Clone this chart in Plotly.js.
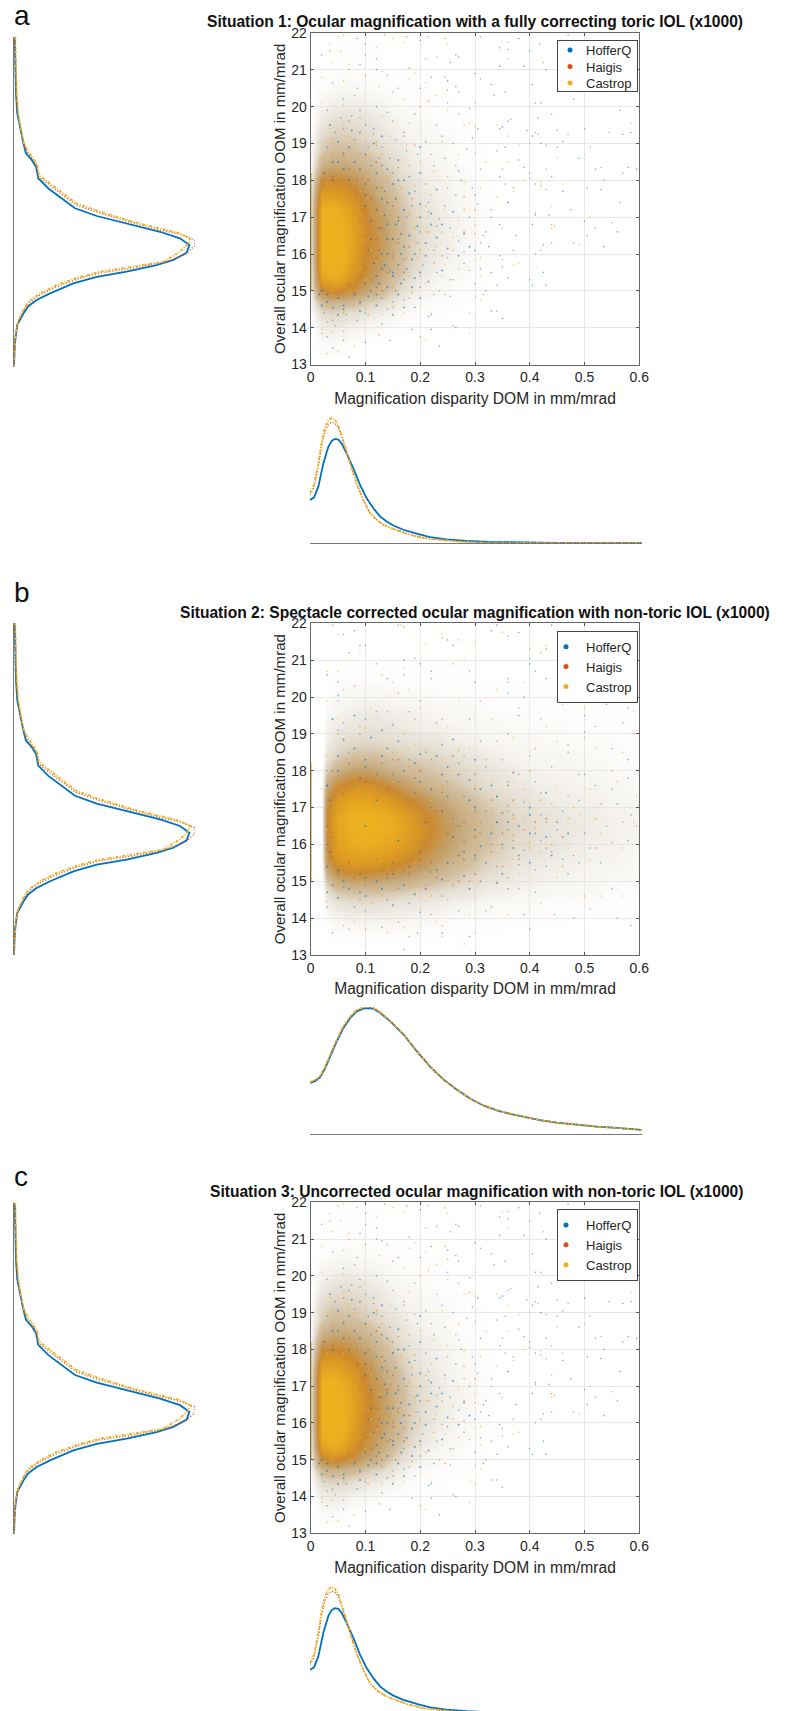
<!DOCTYPE html>
<html><head><meta charset="utf-8">
<script src="https://cdn.plot.ly/plotly-3.0.1.min.js"></script>
<style>html,body{margin:0;padding:0;background:#fff;overflow:hidden}</style></head>
<body><div id="chart" style="width:787px;height:1711px"></div>
<script>
// ---- density curves ----
const domX = [0,.0072,.0151,.0241,.0332,.0392,.0452,.0513,.0573,.0663,.0784,.0905,.1025,.1146,.1266,.1387,.1508,.1688,.193,.2171,.2472,.2834,.3256,.3859,.4462,.6];
const domHofferA = [.342,.361,.447,.632,.763,.811,.826,.821,.789,.711,.592,.461,.355,.276,.211,.171,.139,.105,.074,.047,.029,.016,.008,.003,.001,0];
const domOtherX = [0,.0072,.0151,.0211,.0271,.0332,.0392,.0452,.0513,.0573,.0663,.0754,.0844,.0965,.1085,.1206,.1327,.1508,.1749,.205,.2352,.2653,.3015,.3558,.6];
const domHaigisA = [.385,.44,.61,.77,.885,.94,.96,.95,.915,.845,.72,.59,.47,.34,.235,.183,.145,.111,.074,.039,.024,.013,.005,0,0];
const domCastropA = [.395,.461,.632,.803,.921,.974,.995,.979,.934,.855,.724,.592,.474,.342,.237,.184,.145,.111,.074,.039,.024,.013,.005,0,0];
const domBX = [0,.009,.0181,.0271,.0362,.0482,.0603,.0724,.0844,.0965,.1055,.1146,.1266,.1447,.1688,.193,.2171,.2412,.2653,.2894,.3136,.3377,.3618,.3859,.4161,.4462,.4824,.5186,.5548,.6];
const domHofferB = [.402,.416,.445,.515,.607,.727,.833,.912,.965,.987,.992,.986,.955,.889,.785,.652,.53,.43,.35,.279,.225,.186,.159,.135,.109,.09,.074,.058,.048,.032];
const domHaigisB = [.408,.422,.451,.523,.615,.735,.841,.92,.973,.995,1,.992,.96,.894,.788,.655,.531,.43,.35,.279,.225,.186,.159,.135,.109,.09,.074,.058,.048,.032];
const domCastropB = [.41,.425,.455,.528,.622,.742,.848,.925,.976,.997,1,.993,.96,.893,.786,.652,.528,.428,.348,.277,.224,.186,.159,.135,.109,.09,.074,.058,.048,.03];

const oomHofferV = [.004,.007,.011,.018,.033,.052,.066,.098,.122,.134,.19,.263,.337,.457,.641,.807,.917,.969,.954,.88,.788,.622,.457,.328,.199,.125,.079,.052,.018,.007,.002,0];
const oomHofferY = [22,21.18,20.45,19.91,19.5,19.09,18.82,18.64,18.45,18.14,17.86,17.59,17.32,17.11,16.89,16.68,16.5,16.32,16.11,15.91,15.77,15.59,15.45,15.27,15,14.82,14.65,14.45,14.14,13.73,13.36,13];
const oomHaigisV = [.006,.009,.013,.022,.035,.054,.075,.103,.125,.136,.195,.269,.343,.468,.652,.807,.926,1,1,.945,.835,.65,.468,.35,.221,.134,.079,.052,.022,.009,.004,0];
const oomHaigisY = [22,21.18,20.45,19.91,19.5,19.09,18.84,18.66,18.48,18.18,17.95,17.68,17.41,17.2,16.93,16.73,16.6,16.45,16.3,16.06,15.86,15.68,15.55,15.39,15.15,14.93,14.73,14.52,14.23,13.86,13.43,13];
const oomCastropV = [.007,.011,.015,.024,.037,.055,.079,.107,.129,.138,.199,.273,.346,.475,.659,.807,.917,.972,.963,.917,.825,.659,.475,.365,.236,.144,.079,.052,.024,.009,.004,0];
const oomCastropY = [22,21.18,20.45,19.91,19.5,19.09,18.86,18.68,18.5,18.23,18,17.73,17.45,17.23,16.95,16.77,16.64,16.5,16.36,16.14,15.86,15.73,15.59,15.45,15.23,15,14.77,14.55,14.27,13.91,13.45,13];

// ---- point density of the crowded part of each cloud (0 empty, 10 solid) ----
const cloudRows = [13.5,14,14.4,14.7,15,15.3,15.6,16,16.4,16.8,17.2,17.6,18,18.4,18.8,19.2,19.6,20,20.5,21,22];
const cloudColsA = [0,.02,.04,.06,.08,.1,.12,.14,.16,.18,.2,.23,.26,.3,.35];
const cloudA = [
[0,.3,.3,.2,.1,.1,.1,0,0,0,0,0,0,0,0],
[0,.8,.9,.8,.6,.5,.4,.3,.2,.2,.1,.1,.1,0,0],
[.3,1.5,1.8,1.6,1.4,1.1,.9,.7,.5,.3,.2,.2,.1,.1,0],
[.5,3,3.5,3.2,2.8,2.2,1.8,1.3,.9,.6,.4,.3,.2,.1,0],
[.7,6,7,6.5,5.5,4.3,3.4,2.4,1.6,1,.7,.4,.3,.2,0],
[.8,8.5,9.5,8.8,7,5.5,4.4,3.2,2.2,1.4,.9,.6,.4,.2,0],
[.8,9.7,10,9.6,8,6.2,5,3.8,2.8,1.8,1.2,.7,.5,.3,0],
[.9,10,10,10,8.5,6.6,5.5,4.2,3,2,1.4,.9,.6,.3,0],
[.9,10,10,10,8.8,7,5.7,4.4,3.1,2.1,1.5,1,.7,.4,0],
[.9,10,10,9.8,8.5,6.8,5.5,4.2,3,2.1,1.5,1,.7,.4,0],
[.9,9.8,10,9.4,8,6.4,5,3.8,2.7,1.9,1.3,.9,.6,.4,0],
[.8,8.5,8.5,8,7,5.5,4.2,3.2,2.3,1.6,1.1,.8,.6,.3,0],
[.6,6,6.5,6.2,5.3,4.4,3.4,2.5,1.8,1.3,.9,.7,.5,.3,0],
[.4,3.5,4.2,4.2,3.8,3.2,2.5,1.9,1.4,1,.8,.6,.4,.2,0],
[.3,2.2,2.8,2.8,2.6,2.2,1.8,1.4,1.1,.8,.6,.5,.3,.2,0],
[.2,1.6,2,2,1.9,1.6,1.3,1,.8,.6,.5,.4,.3,.2,0],
[.1,1,1.4,1.5,1.4,1.2,1,.8,.6,.5,.4,.3,.2,.1,0],
[.1,.6,.8,.9,.9,.8,.7,.5,.4,.3,.3,.2,.1,.1,0],
[0,.3,.4,.5,.4,.4,.3,.3,.2,.2,.2,.1,.1,.1,0],
[0,.1,.2,.2,.2,.2,.2,.1,.1,.1,.1,.1,.1,0,0],
[0,.1,.1,.1,.1,.1,.1,.1,.1,.1,0,0,0,0,0]];
const cloudColsB = [0,.02,.03,.05,.08,.11,.14,.17,.2,.23,.26,.29,.32,.35,.38,.42,.46,.5,.55,.6];
const cloudB = [
[0,0,.1,.2,.2,.2,.2,.2,.2,.2,.1,.1,.1,.1,0,0,0,0,0,0],
[0,0,.3,.6,.7,.7,.7,.6,.5,.4,.3,.3,.3,.2,.2,.2,.2,.1,.1,.1],
[0,0,.8,1.2,1.4,1.4,1.3,1.1,1,.9,.7,.6,.5,.4,.4,.3,.3,.3,.2,.1],
[0,0,1.2,2.2,2.5,2.5,2.3,2,1.7,1.5,1.3,1.1,.8,.7,.6,.5,.4,.4,.3,.2],
[0,0,2.3,4,4.5,4.4,4,3.5,3,2.5,2,1.6,1.2,1,.8,.7,.6,.5,.4,.3],
[0,0,4,6.5,7,6.8,6.2,5.4,4.5,3.6,2.8,2.2,1.7,1.3,1,.8,.7,.6,.5,.4],
[0,0,5.5,8,8.6,8.5,8,7,5.8,4.6,3.5,2.7,2,1.6,1.2,1,.8,.7,.6,.4],
[0,0,6,8.8,9.6,9.6,9.2,8.5,7,5.5,4.3,3.2,2.5,1.9,1.5,1.2,1,.8,.7,.5],
[0,0,6.3,9,10,10,9.8,9,7.6,6,4.6,3.5,2.7,2.1,1.7,1.3,1.1,.9,.7,.6],
[0,0,6.2,9,10,10,9.6,8.6,7,5.6,4.4,3.3,2.5,2,1.6,1.3,1,.9,.7,.6],
[0,0,5.5,8.2,9.2,9,8.2,7,5.7,4.5,3.5,2.7,2,1.6,1.3,1,.8,.7,.6,.5],
[0,0,3.8,6.2,7.4,7.2,6,4.8,3.8,3,2.4,1.9,1.5,1.2,1,.8,.7,.6,.5,.4],
[0,0,2,3.5,4.6,4.4,3.6,3,2.6,2.2,1.8,1.5,1.2,1,.8,.6,.6,.5,.4,.3],
[0,0,1.2,2,2.6,2.6,2.3,2,1.8,1.7,1.4,1.1,.9,.7,.6,.5,.5,.4,.3,.3],
[0,0,.8,1.3,1.6,1.6,1.5,1.3,1.2,1.1,.8,.7,.6,.5,.5,.4,.3,.3,.3,.2],
[0,0,.6,.9,1.1,1.2,1.1,.9,.8,.7,.6,.5,.4,.4,.3,.3,.3,.2,.2,.2],
[0,0,.4,.6,.8,.9,.8,.7,.6,.5,.4,.4,.3,.3,.3,.2,.2,.2,.2,.1],
[0,0,.2,.4,.5,.5,.5,.4,.4,.3,.3,.3,.2,.2,.2,.2,.2,.1,.1,.1],
[0,0,.1,.2,.2,.2,.2,.2,.2,.2,.2,.2,.1,.1,.1,.1,.1,.1,.1,0],
[0,0,.1,.1,.1,.1,.1,.1,.1,.1,.1,.1,.1,.1,.1,.1,.1,0,0,0],
[0,0,0,.1,.1,.1,.1,.1,.1,.1,.1,.1,.1,.1,.1,.1,0,0,0,0]];

// ---- scatter points, situation 1 and 3 ----
const hofferTailA = [[.175,21.9],[.31,21.9],[.47,21.95],[.2,21.8],[.1,21.7],[.38,21.85],[.418,21.7],[.345,21.6],[.36,21.55],[.4,21.5],[.265,21.4],[.27,21.35],[.255,21.2],[.12,21.3],[.09,21.15],[.02,21.4],[.345,21.1],[.39,21.1],[.43,21],[.12,21],[.18,21.05],[.3,20.9],[.31,20.75],[.22,20.8],[.25,20.7],[.33,20.6],[.405,20.6],[.04,20.65],[.085,20.5],[.16,20.5],[.2,20.5],[.27,20.4],[.335,20.3],[.355,20.4],[.48,20.2],[.41,20.1],[.42,20.1],[.25,20.1],[.29,19.95],[.12,20],[.06,20.2],[.03,19.9],[.09,19.9],[.14,19.85],[.19,19.8],[.415,19.7],[.565,19.9],[.44,19.8],[.36,19.6],[.35,19.45],[.345,19.4],[.305,19.4],[.5,19.4],[.57,19.25],[.585,19.3],[.46,19.05],[.395,19.35],[.405,19.2],[.295,19.15],[.24,19.2],[.17,19.3],[.1,19.5],[.07,19.6],[.045,19.3],[.055,19.7],[.075,19.75],[.115,19.4],[.155,19.1],[.21,19.05],[.26,19],[.285,18.85],[.34,18.8],[.355,18.9],[.42,19],[.45,18.9],[.49,18.6],[.38,18.55],[.39,18.35],[.4,18.2],[.58,18.35],[.595,18.3],[.57,18.2],[.52,18.3],[.535,18],[.505,17.8],[.53,17.75],[.46,17.7],[.41,17.9],[.37,17.8],[.345,18.1],[.31,18.3],[.27,18.25],[.275,18],[.295,17.8],[.225,18.4],[.245,18.6],[.195,18.7],[.175,18.8],[.145,18.6],[.13,18.9],[.08,19.1],[.105,18.9],[.03,18.9],[.06,18.75],[.3,17.6],[.305,17.35],[.36,17.4],[.33,17.2],[.41,17.1],[.435,17.05],[.475,17.2],[.565,17.4],[.5,16.9],[.52,16.7],[.56,16.6],[.505,16.5],[.535,16.2],[.44,16.3],[.425,16.25],[.405,16.8],[.375,16.5],[.345,16.8],[.32,16.6],[.31,16.3],[.325,16.2],[.345,15.95],[.3,16.1],[.27,16.35],[.255,16.7],[.235,16.95],[.215,17.4],[.245,17.3],[.19,17.7],[.21,17.9],[.18,18.1],[.195,16.3],[.2,16.6],[.225,16.1],[.25,15.9],[.28,15.75],[.31,15.6],[.33,15.5],[.36,15.35],[.4,15.3],[.425,15.5],[.43,15.15],[.405,15.15],[.34,15.15],[.32,15],[.3,15.2],[.255,15.3],[.23,15.5],[.205,15.7],[.2,15.1],[.225,14.9],[.255,14.85],[.315,14.9],[.34,14.45],[.35,14.25],[.33,14.45],[.22,14.35],[.215,14.3],[.19,14.55],[.17,14.75],[.14,14.5],[.1,14.4],[.085,14.2],[.065,14.35],[.04,14.2],[.025,14.4],[.26,14.05],[.22,13.95],[.185,13.95],[.13,14.1],[.1,13.6],[.06,13.65],[.07,13.2],[.04,13.45],[.03,13.75],[.145,13.65],[.235,13.5],[.265,14],[.315,16.5],[.29,17],[.265,17.6],[.185,17.3],[.17,15.3],[.155,15],[.13,14.8],[.12,15.1],[.145,15.55],[.16,16.4],[.175,17],[.135,17.7],[.15,18.2],[.11,18.4],[.125,18.6]];
const haigisTailA = [[.05,21.9],[.085,21.85],[.135,21.95],[.215,21.9],[.245,21.85],[.36,21.75],[.035,21.5],[.1,21.4],[.21,21.3],[.23,21.35],[.425,21.2],[.07,21],[.13,20.95],[.14,20.85],[.1,20.85],[.245,20.8],[.265,20.55],[.25,20.45],[.08,20.3],[.15,20.4],[.215,20.15],[.2,20],[.27,19.8],[.09,19.7],[.06,19.4],[.15,19.6],[.115,19.25],[.23,19.5],[.29,19.55],[.365,19.65],[.41,19.3],[.415,19.25],[.43,18.95],[.45,19.35],[.47,19.25],[.545,19.3],[.51,18.9],[.35,18.3],[.53,18.35],[.43,18.3],[.44,18.1],[.4,18.05],[.355,17.9],[.42,17.85],[.43,17.75],[.36,17.4],[.41,17.05],[.445,16.75],[.44,16.8],[.55,16.85],[.48,16.3],[.42,16.1],[.41,16],[.35,15.85],[.37,16.1],[.35,15.65],[.28,16.05],[.29,15.55],[.33,17],[.3,17.2],[.28,17.55],[.25,17.8],[.265,18.4],[.22,18.7],[.19,18.95],[.17,19.2],[.215,17.15],[.23,16.75],[.24,15.95],[.2,15.4],[.235,15],[.245,14.9],[.18,14.8],[.15,14.7],[.09,14.65],[.045,14.05],[.06,13.9],[.02,13.85],[.125,13.8],[.2,13.75],[.28,16.6],[.3,16.55],[.26,15.3],[.15,16],[.17,15.85],[.145,17.05],[.185,17.5],[.16,18.35],[.12,18.95]];
const castropTailA = [[.06,21.95],[.035,21.7],[.055,21.5],[.15,21.85],[.17,21.75],[.12,21.6],[.25,21.7],[.35,21.75],[.36,21.3],[.04,21.2],[.07,21.15],[.02,20.8],[.19,20.9],[.18,20.75],[.21,20.65],[.06,20.7],[.125,20.55],[.02,20.1],[.06,20.05],[.23,20.3],[.17,20.2],[.3,20.1],[.28,19.5],[.3,19.45],[.13,19.75],[.18,19.55],[.25,19.9],[.4,19],[.38,18.95],[.585,19.55],[.36,19.2],[.34,19.5],[.24,19.05],[.27,18.7],[.3,18.75],[.32,18.5],[.36,18.5],[.45,18.6],[.5,18.7],[.39,18],[.42,17.95],[.37,17.7],[.44,17.3],[.46,17.9],[.34,17.55],[.31,17.8],[.28,17.95],[.25,18.1],[.225,18.25],[.2,18.5],[.175,18.95],[.145,19.2],[.09,19.3],[.06,19.55],[.1,19.1],[.04,19.1],[.035,19.4],[.22,17.6],[.245,17.2],[.27,16.9],[.3,16.8],[.35,16.7],[.44,16.7],[.49,16.25],[.51,17],[.38,15.75],[.37,15.7],[.31,15.9],[.3,15.85],[.27,15.6],[.245,15.7],[.21,16.6],[.195,17],[.195,15.9],[.21,15.2],[.24,15.4],[.3,14.85],[.31,14.75],[.29,14.4],[.3,14.35],[.22,14.4],[.17,14.4],[.13,14.35],[.1,14.5],[.04,13.9],[.02,13.95],[.03,13.3],[.05,13.35],[.08,13.5],[.21,13.65],[.29,13.85],[.31,15.4],[.26,16.45],[.23,16.2],[.18,15.4],[.16,15],[.135,14.85],[.08,14.65],[.19,16.3],[.155,17.55],[.145,18.2],[.11,18.7],[.13,18.4],[.09,18.75],[.05,18.9]];
const hofferDenseA = [[.1,17.9],[.12,18.2],[.08,18.5],[.14,17.4],[.155,16.8],[.165,16],[.15,15.4],[.11,15],[.12,15.4],[.09,14.7],[.06,14.6],[.03,14.7],[.13,16],[.14,16.4],[.11,16.9],[.1,17.3],[.125,15.2],[.105,14.85],[.16,15.7],[.18,16.5],[.17,17.2],[.15,17.9],[.13,18.4],[.07,18.9],[.04,18.5],[.02,15],[.04,14.55],[.015,14.9],[.135,15.7],[.1,17.6],[.12,17.2],[.14,16.8],[.15,16.4],[.14,16],[.13,15.6],[.1,15.2],[.08,14.9],[.05,14.8],[.03,14.9],[.07,18],[.04,18],[.09,18.3],[.16,16.9],[.17,16.2],[.15,15.5],[.12,17.8],[.05,18.5],[.12,14.9],[.02,14.6],[.06,14.5],[.13,17.5],[.19,16],[.2,17],[.175,15.6],[.185,15.1],[.16,14.9],[.14,15.1],[.11,16.4],[.105,16.1],[.125,16.7],[.135,17.05],[.155,17.5],[.17,18],[.14,18.3],[.1,18.7],[.06,18.3],[.025,18.2],[.21,16.3],[.22,16.8],[.2,15.5],[.115,15.75],[.165,16.55],[.185,15.85],[.195,16.75],[.21,15.95],[.23,16.45],[.24,16.8],[.25,16.15],[.22,17.1],[.2,17.35],[.18,17.65],[.16,18],[.2,18.2],[.23,17.75],[.26,17.15],[.28,16.55],[.29,16.2],[.27,15.95],[.24,15.55],[.215,15.25],[.19,15.35],[.165,15.2],[.2,14.8],[.17,14.55],[.15,14.35],[.12,14.6],[.09,14.45],[.05,14.35],[.13,19.2],[.09,19.3],[.05,19.05],[.16,18.55],[.115,19],[.2,18.9],[.075,19.35],[.035,19.5]];
const haigisDenseA = [[.1,16.5],[.11,16.8],[.12,16.4],[.095,17.2],[.085,17.6],[.11,17.5],[.12,15.9],[.1,15.6],[.07,15.2],[.04,18.1],[.07,18.3],[.14,16.9],[.15,15.9],[.08,14.95],[.05,14.9],[.105,18],[.13,17.8],[.06,18.7],[.16,16.3],[.02,18],[.09,16.9],[.1,16.2],[.125,16.1],[.13,16.7],[.12,17.2],[.09,15.4],[.11,15.3],[.14,15.5],[.16,17],[.15,17.3],[.18,16.2],[.17,15.5],[.13,15],[.085,18],[.12,18.5]];
const castropDenseA = [[.11,16.1],[.13,15.5],[.14,16.1],[.15,16.7],[.13,17.1],[.12,17.7],[.1,18.1],[.07,18.5],[.04,18.7],[.02,18.2],[.16,17.4],[.17,16.6],[.16,15.6],[.12,15],[.09,14.8],[.03,14.6],[.01,14.8],[.18,17.1],[.14,18.1],[.1,18.6],[.015,15.2],[.04,15],[.07,15],[.1,15.3],[.12,15.8],[.13,16.3],[.125,16.8],[.11,17.3],[.09,17.7],[.06,17.9],[.03,17.9],[.03,18.3],[.06,18.2],[.09,15.6],[.05,14.75],[.02,18.6],[.145,16.55],[.155,16.2],[.135,15.2],[.15,15.1],[.175,15.9],[.165,17.8],[.13,18.7],[.08,19],[.19,16.7],[.2,16.1],[.215,16.6],[.225,15.75],[.21,17.3],[.19,17.85],[.18,18.4],[.12,19.05],[.07,19.2],[.035,19],[.185,14.95],[.15,14.55],[.105,14.35],[.06,14.4],[.03,14.15],[.24,16.6],[.26,16.1],[.28,17.2]];

// ---- scatter points, situation 2 ----
const hofferTailB = [[.17,21.9],[.34,21.95],[.44,21.95],[.06,21.7],[.08,21.8],[.33,21.8],[.38,21.75],[.36,21.65],[.25,21.55],[.26,21.4],[.43,21.3],[.4,21.05],[.07,21.2],[.09,21.4],[.17,21],[.19,21.05],[.22,20.7],[.2,20.9],[.4,20.9],[.03,20.6],[.05,20.4],[.17,20.6],[.41,20.7],[.43,20.5],[.46,20.3],[.14,20.5],[.3,20.4],[.05,20.05],[.2,19.9],[.45,19.9],[.48,19.95],[.39,20],[.36,20.1],[.1,19.4],[.12,19.6],[.15,19.25],[.06,19.3],[.54,19.8],[.58,19.7],[.5,19.5],[.05,19.1],[.09,19],[.18,19.6],[.23,19.3],[.29,19.4],[.38,19.5],[.5,19.05],[.57,19.3],[.36,19],[.31,18.8],[.24,18.7],[.21,18.5],[.4,18.4],[.47,18.5],[.55,18.6],[.58,18.3],[.44,18.1],[.5,17.9],[.52,17.6],[.58,17.8],[.41,17.7],[.36,17.6],[.32,18.1],[.27,18.2],[.18,18.3],[.13,18.2],[.07,18.5],[.03,18],[.03,17.6],[.25,17.7],[.3,17.5],[.34,17.3],[.39,17.15],[.42,16.8],[.46,16.9],[.49,17.2],[.56,17.1],[.585,16.8],[.54,16.5],[.58,16.1],[.5,16.3],[.45,16.4],[.41,16.3],[.37,16.8],[.34,16.6],[.31,16.3],[.33,16],[.39,15.85],[.44,15.8],[.51,15.9],[.53,15.5],[.47,15.2],[.43,15.4],[.38,15.45],[.34,15.4],[.3,15.6],[.26,15.5],[.22,15.25],[.18,15.2],[.14,15.1],[.1,14.9],[.06,14.85],[.03,14.7],[.26,14.9],[.31,15],[.36,14.8],[.41,14.7],[.51,14.25],[.55,14.8],[.03,14.3],[.08,14.3],[.1,14.2],[.14,14.5],[.18,14.4],[.2,14.15],[.24,14.6],[.27,14.2],[.33,14.3],[.39,14.1],[.4,13.7],[.585,13.8],[.04,13.6],[.07,13.7],[.13,13.75],[.17,13.15],[.195,13.6],[.29,13.5],[.24,13.6],[.28,16.1],[.26,16.7],[.22,17],[.19,17.4],[.16,17.7],[.12,17.9],[.08,17.6],[.24,15.9],[.2,15.6],[.15,15.5],[.05,15.2],[.09,15.2],[.36,16.4],[.42,16.1],[.46,15.6],[.32,16.9],[.28,17.3],[.36,17.05],[.55,17.5],[.49,15.5],[.03,16.5],[.03,16]];
const haigisTailB = [[.04,21.95],[.1,21.4],[.16,21.95],[.24,21.6],[.4,21.3],[.42,21.2],[.26,20.9],[.22,20.5],[.12,20.9],[.29,20.7],[.36,20.5],[.36,20.4],[.16,20.1],[.08,20.3],[.05,19.9],[.14,19.6],[.09,19.2],[.19,19.4],[.24,19.4],[.31,19.9],[.38,19.7],[.42,19.4],[.5,18.9],[.52,19.2],[.59,19],[.47,18.7],[.41,18.6],[.35,18.3],[.34,18.8],[.28,18.4],[.22,18.3],[.15,18.3],[.55,18],[.49,17.9],[.38,17.9],[.36,17.7],[.3,17.9],[.24,17.6],[.42,17.4],[.47,17.3],[.53,17.1],[.57,16.6],[.595,16.5],[.43,16.6],[.39,16.4],[.35,15.9],[.43,15.9],[.48,15.7],[.52,15.9],[.55,16.05],[.41,15.3],[.36,15.1],[.29,15],[.21,14.9],[.16,14.8],[.5,14.6],[.56,14],[.32,14.2],[.22,14.1],[.16,13.9],[.1,13.7],[.06,13.8],[.03,14.7],[.18,13.5],[.24,13.8],[.28,13.3],[.445,14.1],[.48,14],[.26,16.9],[.2,17.2],[.31,16.6],[.37,16.1],[.09,14.5],[.13,14.6]];
const castropTailB = [[.165,21.95],[.05,21.7],[.24,21.7],[.27,21.55],[.21,21.45],[.09,21.2],[.43,21.4],[.35,21.75],[.3,21.5],[.17,20.8],[.28,21.05],[.03,20.7],[.05,20.7],[.06,20.2],[.13,20.6],[.15,20.4],[.18,20.2],[.27,19.9],[.34,20.2],[.39,20.4],[.46,19.8],[.5,19.7],[.585,20.1],[.03,19.9],[.05,19.4],[.11,19.7],[.2,19.7],[.25,19.2],[.33,19.4],[.43,19.2],[.37,18.9],[.45,18.8],[.52,18.6],[.57,18.5],[.59,19.6],[.29,18.6],[.24,18.3],[.19,18.7],[.13,18.6],[.09,18.2],[.06,18.8],[.03,18.4],[.02,17.5],[.26,18],[.33,17.7],[.39,17.5],[.45,17.6],[.51,17.5],[.56,17.7],[.595,17.3],[.44,17.1],[.37,17.2],[.32,17.2],[.28,17],[.23,17.2],[.18,17.6],[.15,17.9],[.11,18],[.35,16.85],[.39,16.7],[.45,16.6],[.49,16.8],[.53,16.3],[.59,16.6],[.57,15.9],[.51,15.6],[.47,15.9],[.42,15.8],[.37,15.6],[.32,15.7],[.28,15.4],[.25,15.2],[.2,15.4],[.16,15.3],[.12,15.2],[.08,15],[.05,14.9],[.34,15],[.38,15.2],[.45,15.1],[.48,14.6],[.53,14.6],[.57,14.6],[.3,14.6],[.25,14.5],[.19,14.7],[.15,14.6],[.11,14.4],[.07,14.6],[.03,14.45],[.42,14.4],[.36,14.1],[.29,14.1],[.23,13.9],[.17,13.75],[.14,13.6],[.08,13.9],[.1,13.3],[.3,13.6],[.24,13.5],[.2,14.2],[.34,15.6],[.4,16.05],[.31,16.3],[.27,16.5],[.23,16.05],[.26,15.75]];
const hofferDenseB = [[.06,15],[.12,15],[.18,15.4],[.23,15.3],[.27,15.7],[.32,15.5],[.37,15.9],[.34,16.6],[.29,17.2],[.22,17.5],[.17,18],[.1,18.3],[.05,18.4],[.04,14.9],[.09,14.7],[.03,15.4],[.03,17.6],[.3,16.4],[.26,16.2],[.21,16.6],[.16,16.1],[.1,16.5],[.12,17.2],[.2,15.8],[.38,16.5],[.43,16.2],[.4,17],[.14,18.6],[.23,18.4],[.09,17.8],[.27,17.9],[.05,15.3],[.1,15.1],[.15,15.2],[.2,15.4],[.25,15.5],[.3,15.7],[.35,16],[.36,16.6],[.3,17],[.25,17.3],[.2,17.7],[.15,17.9],[.1,18.1],[.05,18],[.035,15.8],[.035,17.2],[.33,16.3],[.28,15.8],[.4,16.3],[.38,15.7],[.17,14.9],[.07,14.8],[.13,18.4],[.08,18.6],[.34,17.3],[.4,16.8],[.29,14.8],[.21,14.8],[.13,14.8],[.19,18.2],[.25,18.1],[.31,17.5],[.45,16.6],[.44,15.7],[.35,15.2],[.24,16.9],[.27,16.5],[.31,15.95],[.35,16.85],[.33,17.6],[.29,17.75],[.24,17.9],[.2,18.45],[.16,18.8],[.11,18.9],[.06,18.85],[.04,19.4],[.08,19.5],[.13,19.1],[.26,18.85],[.3,18.3],[.37,17.95],[.43,17.4],[.47,16.3],[.4,15.5],[.34,14.95],[.28,15.15],[.24,15.05],[.19,14.65],[.15,14.35],[.1,14.6],[.05,14.55]];
const haigisDenseB = [[.07,15.5],[.12,15.6],[.17,15.3],[.22,15.5],[.28,15.6],[.33,15.8],[.35,16.3],[.3,16.9],[.24,17.4],[.19,17.8],[.14,17.5],[.1,17.7],[.06,17.4],[.04,16.2],[.28,16.6],[.23,16.9],[.11,18],[.07,18.2],[.04,18],[.16,18.3],[.37,17.2],[.41,16.6],[.26,18.4],[.3,15.2],[.25,16.3],[.3,16.2],[.33,17.2],[.23,15.1],[.14,15.2],[.08,15.1],[.2,18],[.38,15.6],[.43,16.7],[.46,16.2],[.27,15]];
const castropDenseB = [[.04,15.1],[.09,15],[.14,15.35],[.19,15.5],[.24,15.6],[.29,15.4],[.32,16],[.37,16.25],[.33,16.9],[.27,17.2],[.2,17.5],[.15,17.7],[.12,18.3],[.06,18.1],[.03,17.4],[.03,16.4],[.03,15.7],[.08,18.4],[.18,18.1],[.23,17.8],[.3,17.6],[.37,16.7],[.41,16.45],[.4,15.9],[.25,15],[.18,14.9],[.04,15.5],[.12,15.4],[.22,15.7],[.26,15.9],[.3,16.6],[.26,16.9],[.22,17.2],[.12,17.8],[.08,17.9],[.05,17.7],[.09,18.2],[.13,18.1],[.33,16.5],[.24,17.5],[.36,16.9],[.35,15.4],[.44,16],[.47,16.7],[.42,17.2],[.36,17.6],[.31,15],[.15,18.5],[.21,18.6],[.27,18.55],[.17,19],[.1,19.15],[.05,19],[.32,18.3],[.4,18],[.48,17],[.52,16.7],[.46,15.4],[.38,14.8],[.22,14.6],[.12,14.75]];

const axisLineY = [15,18.2];
const axisLineX = [0,0];

// ---- texts and ticks ----
const seriesNames = ['HofferQ','Haigis','Castrop'];
const seriesColours = ['#0072BD','#D95319','#EDB120'];
const situationTitles = ['Situation 1: Ocular magnification with a fully correcting toric IOL (x1000)','Situation 2: Spectacle corrected ocular magnification with non-toric IOL (x1000)','Situation 3: Uncorrected ocular magnification with non-toric IOL (x1000)'];
const panelLetters = ['a','b','c'];
const xTitle = 'Magnification disparity DOM in mm/mrad';
const yTitle = 'Overall ocular magnification OOM in mm/mrad';

// ---- page geometry in pixels ----
const W=787,H=1711;
const panels = [
 {main:[33,364.5],side:[36.7,366.7],bot:[417,543],botMin:0,legendTop:40,titleY:22,letterY:16,tail:'A',titleX:475},
 {main:[623.3,955],side:[623.3,955],bot:[1007,1134],botMin:0,legendTop:630.7,titleY:612,letterY:592,tail:'B',titleX:475},
 {main:[1202.3,1533.3],side:[1202.7,1534],bot:[1586,1711],botMin:.018,legendTop:1209,titleY:1191,letterY:1176,tail:'A',titleX:476}
];
const dx = ([a,b])=>[a/W,b/W];
const dy = ([t,b])=>[1-b/H,1-t/H];
const split = a=>({x:a.map(p=>p[0]),y:a.map(p=>p[1])});

const sets = {
 A:{hT:hofferTailA,rT:haigisTailA,oT:castropTailA,hD:hofferDenseA,rD:haigisDenseA,oD:castropDenseA,zx:cloudColsA,z:cloudA},
 B:{hT:hofferTailB,rT:haigisTailB,oT:castropTailB,hD:hofferDenseB,rD:haigisDenseB,oD:castropDenseB,zx:cloudColsB,z:cloudB}
};
const cloudScale=[[0,'rgba(255,255,255,0)'],[.04,'rgba(238,232,222,.3)'],[.1,'rgba(222,216,204,.6)'],[.25,'rgba(206,186,154,.92)'],[.45,'#C4A26E'],[.65,'#CB8A30'],[.85,'#E19E22'],[1,'#EDB120']];

const traces=[]; const layout={width:W,height:H,margin:{l:0,r:0,t:0,b:0},paper_bgcolor:'#fff',plot_bgcolor:'#fff',showlegend:true,font:{family:'Liberation Sans, Arial, sans-serif',color:'#262626'},annotations:[]};
const tickFont={size:14,color:'#262626',family:'Liberation Sans, Arial, sans-serif'};

panels.forEach((p,i)=>{
  const n=i*3; const mx=n+1,sx=n+2,bx=n+3;
  const nm=k=>k===1?'':k;
  const xa=k=>'x'+nm(k), ya=k=>'y'+nm(k);
  const add=(arr,col,size,op,k)=>{const s=split(arr);traces.push({type:'scatter',mode:'markers',x:s.x,y:s.y,xaxis:xa(k),yaxis:ya(k),showlegend:false,hoverinfo:'skip',marker:{color:col,size:size,opacity:op,line:{width:0}}});};
  const S=sets[p.tail];
  const [B,R,O]=seriesColours;
  traces.push({type:'heatmap',x:S.zx,y:cloudRows,z:S.z,zmin:0,zmax:10,zsmooth:'best',colorscale:cloudScale,showscale:false,hoverinfo:'skip',xaxis:xa(mx),yaxis:ya(mx)});
  add(S.hD,B,2,.6,mx);add(S.rD,R,2,.55,mx);add(S.oD,O,2,.7,mx);
  add(S.hT,B,1.6,.55,mx);add(S.rT,R,1.6,.55,mx);add(S.oT,O,1.6,.65,mx);
  traces.push({type:'scatter',mode:'lines',x:axisLineX,y:axisLineY,xaxis:xa(mx),yaxis:ya(mx),showlegend:false,hoverinfo:'skip',line:{color:O,width:2}});
  // legend entries
  const lg=i===0?'legend':'legend'+(i+1);
  seriesNames.forEach((name,j)=>traces.push({type:'scatter',mode:'markers',x:[null],y:[null],name:name,xaxis:xa(mx),yaxis:ya(mx),legend:lg,marker:{color:seriesColours[j],size:5}}));
  // main axes
  layout['xaxis'+nm(mx)]={domain:dx([310.7,639.3]),anchor:ya(mx),range:[0,.6],dtick:.1,tick0:0,showgrid:true,gridcolor:'#e8e8e8',gridwidth:1,zeroline:false,showline:true,linecolor:'#666',linewidth:1,mirror:'ticks',ticks:'inside',ticklen:3,tickcolor:'#555',tickfont:tickFont,title:{text:xTitle,font:{size:15.6,color:'#262626'},standoff:8},automargin:false};
  layout['yaxis'+nm(mx)]={domain:dy(p.main),anchor:xa(mx),range:[13,22],dtick:1,tick0:13,showgrid:true,gridcolor:'#e8e8e8',gridwidth:1,zeroline:false,showline:true,linecolor:'#666',linewidth:1,mirror:'ticks',ticks:'inside',ticklen:3,tickcolor:'#555',tickfont:tickFont,title:{text:yTitle,font:{size:15.1,color:'#262626'},standoff:2},automargin:false};
  // legend box
  layout[lg]={x:557/W,y:1-p.legendTop/H,xref:'paper',yref:'paper',xanchor:'left',yanchor:'top',bgcolor:'#fff',bordercolor:'#444',borderwidth:1,font:{size:13,color:'#262626'},indentation:-12,itemwidth:30,itemclick:false,itemdoubleclick:false};
  // side density
  const line=(x,y,k,col,dash,w)=>traces.push({type:'scatter',mode:'lines',x:x,y:y,xaxis:xa(k),yaxis:ya(k),showlegend:false,hoverinfo:'skip',line:{color:col,width:w,dash:dash}});
  line(oomHofferV,oomHofferY,sx,B,'solid',1.8);
  line(oomHaigisV,oomHaigisY,sx,R,'1px,2px',1.5);
  line(oomCastropV,oomCastropY,sx,O,'3px,1.5px,1px,1.5px',1.8);
  layout['xaxis'+nm(sx)]={domain:dx([14,195]),anchor:ya(sx),range:[0,1],visible:false};
  layout['yaxis'+nm(sx)]={domain:dy(p.side),anchor:xa(sx),range:[13,22],showticklabels:false,ticks:'',showgrid:false,zeroline:false,showline:true,linecolor:'#777',linewidth:1};
  // bottom density
  const bh=p.tail==='A'?[domX,domHofferA]:[domBX,domHofferB];
  const br=p.tail==='A'?[domOtherX,domHaigisA]:[domBX,domHaigisB];
  const bo=p.tail==='A'?[domOtherX,domCastropA]:[domBX,domCastropB];
  line(bh[0],bh[1],bx,B,'solid',1.8);
  line(br[0],br[1],bx,R,'1px,2px',1.5);
  line(bo[0],bo[1],bx,O,'3px,1.5px,1px,1.5px',1.8);
  layout['xaxis'+nm(bx)]={domain:dx([310,641.7]),anchor:ya(bx),range:[0,.6],showticklabels:false,ticks:'',showgrid:false,zeroline:false,showline:i!==2,linecolor:'#777',linewidth:1};
  layout['yaxis'+nm(bx)]={domain:dy(p.bot),anchor:xa(bx),range:[p.botMin,1],visible:false};
  // texts
  layout.annotations.push({xref:'paper',yref:'paper',x:p.titleX/W,y:1-p.titleY/H,xanchor:'center',yanchor:'middle',showarrow:false,text:'<b>'+situationTitles[i]+'</b>',font:{size:15.6,color:'#111',family:'Liberation Sans, Arial, sans-serif'}});
  layout.annotations.push({xref:'paper',yref:'paper',x:12/W,y:1-p.letterY/H,xanchor:'left',yanchor:'middle',showarrow:false,text:panelLetters[i],font:{size:28,color:'#111',family:'Liberation Sans, Arial, sans-serif'}});
});
Plotly.newPlot('chart',traces,layout,{displayModeBar:false}).then(()=>{
  // tighten the legend rows to the spacing of the reference
  document.querySelectorAll('#chart .legend').forEach(l=>{
    l.querySelectorAll('.traces').forEach((r,k)=>{
      r.setAttribute('transform','translate(1,'+(10+k*16.5)+')');
      const s=r.querySelector('.legendsymbols'); if(s) s.setAttribute('transform','translate(4,0)');
    });
    const bg=l.querySelector('rect.bg'); if(bg) bg.setAttribute('height','51');
  });
  // centre each y title on its axis
  const ytitles=[...document.querySelectorAll('#chart text')].filter(t=>/(^|\s)y\d*title(\s|$)/.test(t.getAttribute('class')||''));
  ytitles.forEach((t,k)=>{
    const box=t.getBoundingClientRect();
    const centre=(panels[k].main[0]+panels[k].main[1])/2;
    const shift=centre-(box.top+box.bottom)/2;
    t.setAttribute('transform','translate(0,'+shift+') '+(t.getAttribute('transform')||''));
  });
});
</script></body></html>
